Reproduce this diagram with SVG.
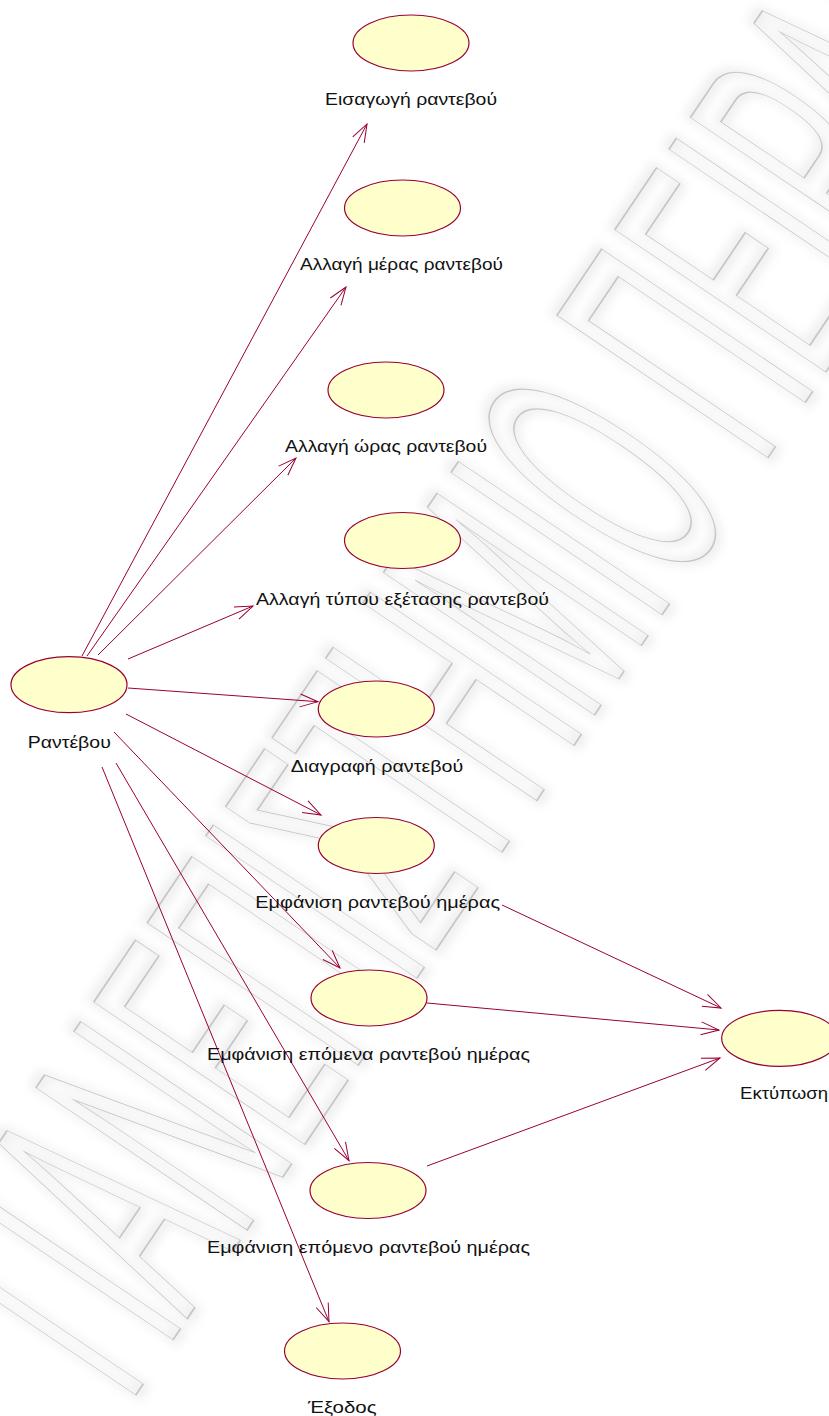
<svg xmlns="http://www.w3.org/2000/svg" width="829" height="1416" viewBox="0 0 829 1416">
  <defs>
    <style>
      .uc { fill: #FFFFCC; stroke: #990033; stroke-width: 1.2; }
      .lbl { font-family: "Liberation Sans", Arial, sans-serif; font-size: 17px; fill: #111; text-anchor: middle; }
      .assoc { stroke: #990033; stroke-width: 1; fill: none; marker-end: url(#open); }
      .wm { font-family: "Liberation Sans", Arial, sans-serif; font-size: 370px; }
    </style>
    <marker id="open" markerUnits="userSpaceOnUse" markerWidth="24" markerHeight="18" viewBox="-20 -9 22 18" refX="0" refY="0" orient="auto">
      <path d="M-18,-6.5 L0,0 L-18,6.5" fill="none" stroke="#990033" stroke-width="1"/>
    </marker>
    <filter id="soft" x="-10%" y="-30%" width="120%" height="160%">
      <feGaussianBlur stdDeviation="13 5"/>
    </filter>
  </defs>

  <rect width="829" height="1416" fill="#ffffff"/>

  <!-- background watermark, outlined letters along the diagonal -->
  <g id="watermark" transform="translate(582,560) rotate(-56) scale(0.387,1)">
    <text class="wm" x="-2464" y="97" fill="none" stroke="#000" stroke-opacity="0.06" stroke-width="12" vector-effect="non-scaling-stroke" filter="url(#soft)">ΠΑΝΕΠΙΣΤΗΜΙΟ ΠΕΙΡΑΙΑ</text>
    <text class="wm" x="-2464" y="97" fill="none" stroke="#c6c6c6" stroke-width="1.3" vector-effect="non-scaling-stroke">ΠΑΝΕΠΙΣΤΗΜΙΟ ΠΕΙΡΑΙΑ</text>
  </g>

  <!-- associations -->
  <g id="connectors">
    <line class="assoc" x1="82" y1="656" x2="367" y2="124"/>
    <line class="assoc" x1="87" y1="656" x2="346" y2="287"/>
    <line class="assoc" x1="98" y1="655" x2="296" y2="458"/>
    <line class="assoc" x1="128" y1="659" x2="253" y2="606"/>
    <line class="assoc" x1="128" y1="688" x2="318" y2="701.7"/>
    <line class="assoc" x1="126" y1="714" x2="321" y2="815"/>
    <line class="assoc" x1="114" y1="732" x2="340" y2="968"/>
    <line class="assoc" x1="116" y1="763" x2="349" y2="1160.7"/>
    <line class="assoc" x1="102" y1="767" x2="329" y2="1321.7"/>
    <line class="assoc" x1="502" y1="905" x2="721" y2="1008"/>
    <line class="assoc" x1="427" y1="1003" x2="719" y2="1030"/>
    <line class="assoc" x1="427" y1="1166" x2="720" y2="1058"/>
  </g>

  <!-- use cases -->
  <g id="eisagogi">
    <ellipse class="uc" cx="411" cy="43" rx="58" ry="28"/>
    <text class="lbl" x="411" y="105" textLength="172" lengthAdjust="spacingAndGlyphs">Εισαγωγή ραντεβού</text>
  </g>
  <g id="allagi-meras">
    <ellipse class="uc" cx="402.5" cy="208" rx="58" ry="28"/>
    <text class="lbl" x="401.5" y="270" textLength="203" lengthAdjust="spacingAndGlyphs">Αλλαγή μέρας ραντεβού</text>
  </g>
  <g id="allagi-oras">
    <ellipse class="uc" cx="386" cy="390" rx="58" ry="28"/>
    <text class="lbl" x="386" y="452" textLength="202" lengthAdjust="spacingAndGlyphs">Αλλαγή ώρας ραντεβού</text>
  </g>
  <g id="allagi-typou">
    <ellipse class="uc" cx="402.5" cy="540.5" rx="58" ry="28"/>
    <text class="lbl" x="402.5" y="605" textLength="293" lengthAdjust="spacingAndGlyphs">Αλλαγή τύπου εξέτασης ραντεβού</text>
  </g>
  <g id="rantevou">
    <ellipse class="uc" cx="69" cy="684.7" rx="58" ry="28"/>
    <text class="lbl" x="69.3" y="747.5" textLength="83" lengthAdjust="spacingAndGlyphs">Ραντέβου</text>
  </g>
  <g id="diagrafi">
    <ellipse class="uc" cx="376.3" cy="709" rx="58" ry="28"/>
    <text class="lbl" x="377" y="771.5" textLength="172.6" lengthAdjust="spacingAndGlyphs">Διαγραφή ραντεβού</text>
  </g>
  <g id="emfanisi">
    <ellipse class="uc" cx="376.3" cy="845.5" rx="58" ry="28"/>
    <text class="lbl" x="377.7" y="908" textLength="244.7" lengthAdjust="spacingAndGlyphs">Εμφάνιση ραντεβού ημέρας</text>
  </g>
  <g id="emfanisi-epomena">
    <ellipse class="uc" cx="369" cy="998" rx="58" ry="28"/>
    <text class="lbl" x="368.5" y="1060" textLength="323" lengthAdjust="spacingAndGlyphs">Εμφάνιση επόμενα ραντεβού ημέρας</text>
  </g>
  <g id="emfanisi-epomeno">
    <ellipse class="uc" cx="368" cy="1190.5" rx="58" ry="28"/>
    <text class="lbl" x="368.5" y="1253" textLength="323" lengthAdjust="spacingAndGlyphs">Εμφάνιση επόμενο ραντεβού ημέρας</text>
  </g>
  <g id="exodos">
    <ellipse class="uc" cx="342.5" cy="1351" rx="58" ry="28"/>
    <text class="lbl" x="342.3" y="1413" textLength="68.7" lengthAdjust="spacingAndGlyphs">Έξοδος</text>
  </g>
  <g id="ektyposi">
    <ellipse class="uc" cx="779.7" cy="1038.3" rx="58" ry="28"/>
    <text class="lbl" x="784" y="1099" textLength="88" lengthAdjust="spacingAndGlyphs">Εκτύπωση</text>
  </g>
</svg>
